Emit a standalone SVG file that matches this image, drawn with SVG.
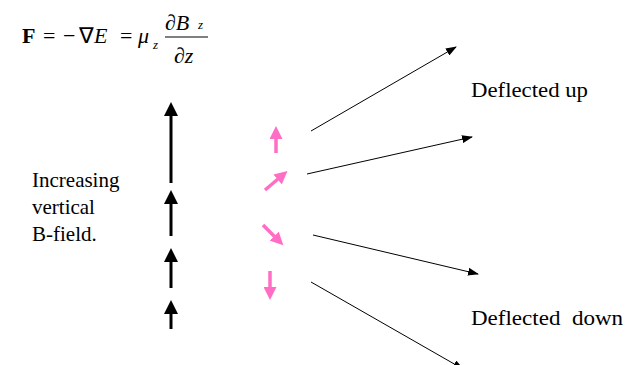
<svg xmlns="http://www.w3.org/2000/svg" width="631" height="365" viewBox="0 0 631 365">
<style>
text{font-family:'Liberation Serif','Times New Roman',Times,serif;fill:#000}
.t{font-size:21px}
.bk{stroke:#000;stroke-width:3;fill:none}
.pk{stroke:#ff6ec4;stroke-width:3.5;fill:none}
.thin{stroke:#000;stroke-width:1;fill:none}
</style>
<defs>
<marker id="hb" markerUnits="userSpaceOnUse" markerWidth="14" markerHeight="14" viewBox="0 0 13 13" refX="0.5" refY="6.5" orient="auto"><path d="M0,0 L13,6.5 L0,13 z" fill="#000"/></marker>
<marker id="hp" markerUnits="userSpaceOnUse" markerWidth="13" markerHeight="13" viewBox="0 0 12 12" refX="0.5" refY="6" orient="auto"><path d="M0,0 L12,6 L0,12 z" fill="#ff6ec4"/></marker>
<marker id="ht" markerUnits="userSpaceOnUse" markerWidth="11" markerHeight="8" viewBox="0 0 11 8" refX="10" refY="4" orient="auto"><path d="M0,0 L11,4 L0,8 z" fill="#000"/></marker>
</defs>
<g id="equation" font-family="'Liberation Serif', serif">
<text font-size="22" x="22" y="43" font-weight="bold">F</text>
<text font-size="22" x="43" y="43">=</text>
<text font-size="22" x="63" y="43">−</text>
<text font-size="22" x="79" y="43">∇</text>
<text font-size="22" x="94" y="43" font-style="italic">E</text>
<text font-size="22" x="120" y="43">=</text>
<text font-size="22" x="138" y="43" font-style="italic">μ</text>
<text font-size="13" x="153" y="49" font-style="italic">z</text>
<text font-size="22" x="165" y="30" font-style="italic">∂B</text>
<text font-size="13" x="198" y="29" font-style="italic">z</text>
<line x1="165" y1="37" x2="208" y2="37" stroke="#000" stroke-width="1"/>
<text font-size="22" x="174" y="63" font-style="italic">∂z</text>
</g>
<g id="label-field" font-family="'Liberation Serif', serif">
<text class="t" x="32" y="187">Increasing</text>
<text class="t" x="32" y="214">vertical</text>
<text class="t" x="32" y="241">B-field.</text>
</g>
<g id="label-up" font-family="'Liberation Serif', serif"><text class="t" x="471" y="97" textLength="117" lengthAdjust="spacingAndGlyphs">Deflected up</text></g>
<g id="label-down" font-family="'Liberation Serif', serif"><text class="t" x="471" y="325" textLength="152" lengthAdjust="spacingAndGlyphs" xml:space="preserve" style="white-space:pre">Deflected  down</text></g>
<g id="field-arrows">
<line class="bk" x1="171" y1="183" x2="171" y2="115.5" marker-end="url(#hb)"/>
<line class="bk" x1="171" y1="236" x2="171" y2="203.5" marker-end="url(#hb)"/>
<line class="bk" x1="171" y1="288" x2="171" y2="261.5" marker-end="url(#hb)"/>
<line class="bk" x1="171" y1="329" x2="171" y2="313.5" marker-end="url(#hb)"/>
</g>
<g id="moments">
<line class="pk" x1="276" y1="153" x2="276" y2="138.5" marker-end="url(#hp)"/>
<line class="pk" x1="265" y1="190" x2="278" y2="179" marker-end="url(#hp)"/>
<line class="pk" x1="263" y1="225" x2="274.5" y2="236.5" marker-end="url(#hp)"/>
<line class="pk" x1="270" y1="271" x2="270" y2="287.5" marker-end="url(#hp)"/>
</g>
<g id="connectors">
<line class="thin" x1="311" y1="131" x2="456" y2="47" marker-end="url(#ht)"/>
<line class="thin" x1="307" y1="174" x2="472" y2="137" marker-end="url(#ht)"/>
<line class="thin" x1="313" y1="235" x2="478" y2="274" marker-end="url(#ht)"/>
<line class="thin" x1="311" y1="282" x2="463" y2="369" marker-end="url(#ht)"/>
</g>
</svg>
